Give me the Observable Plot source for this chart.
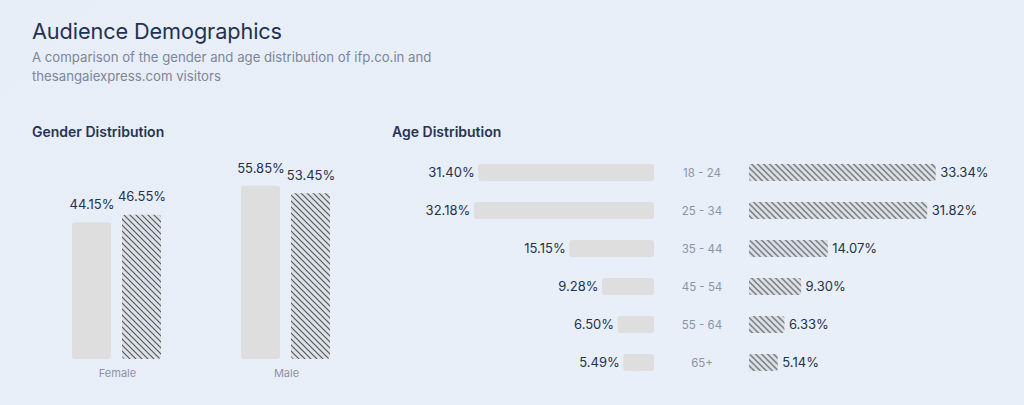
<!DOCTYPE html>
<html>
<head>
<meta charset="utf-8">
<script src="https://cdn.jsdelivr.net/npm/d3@7"></script>
<script src="https://cdn.jsdelivr.net/npm/@observablehq/plot@0.6"></script>
<style>
  html, body { margin: 0; padding: 0; }
  body { width: 1024px; height: 405px; overflow: hidden; background: linear-gradient(135deg, #e8eef8 0%, #e9eff9 100%); font-family: Inter, "Noto Sans", sans-serif; }
  #wrap { position: relative; width: 1024px; height: 405px; }
  .title { position: absolute; left: 32px; top: 18px; font-size: 21.7px; color: #1f3251; font-weight: 400; letter-spacing: -0.1px; }
  .subtitle { position: absolute; left: 32px; top: 48px; font-size: 13.2px; line-height: 19px; color: #7b8698; }
  .head { position: absolute; top: 123px; font-size: 14px; font-weight: 600; color: #243552; }
  #gender { position: absolute; left: 0; top: 140px; }
  #age { position: absolute; left: 380px; top: 140px; }
</style>
</head>
<body>
<svg width="0" height="0" style="position:absolute">
  <defs>
    <pattern id="hatch" patternUnits="userSpaceOnUse" width="6" height="6">
      <rect width="6" height="6" fill="#e1e1e1"></rect>
      <path d="M0,0 L6,6 M-1,5 L1,7 M5,-1 L7,1" stroke="#4b5a70" stroke-width="1.2"></path>
    </pattern>
  </defs>
</svg>
<div id="wrap">
  <div class="title">Audience Demographics</div>
  <div class="subtitle">A comparison of the gender and age distribution of ifp.co.in and<br>thesangaiexpress.com visitors</div>
  <div class="head" style="left:32px">Gender Distribution</div>
  <div class="head" style="left:392px">Age Distribution</div>
  <div id="gender"></div>
  <div id="age"></div>
</div>
<script>
const sites = ["ifp.co.in", "thesangaiexpress.com"];
const genders = ["Female", "Male"];
const genderIfp = [44.15, 55.85];
const genderSangai = [46.55, 53.45];
const ageGroups = ["18 - 24", "25 - 34", "35 - 44", "45 - 54", "55 - 64", "65+"];
const ageIfp = [31.40, 32.18, 15.15, 9.28, 6.50, 5.49];
const ageSangai = [33.34, 31.82, 14.07, 9.30, 6.33, 5.14];

const genderData = genders.flatMap((g, i) => [
  {gender: g, site: sites[0], value: genderIfp[i]},
  {gender: g, site: sites[1], value: genderSangai[i]}
]);
const ageData = ageGroups.map((a, i) => ({age: a, ifp: ageIfp[i], sangai: ageSangai[i]}));
const pct = v => v.toFixed(2) + "%";

const gender = Plot.plot({
  width: 380, height: 250,
  marginLeft: 71, marginRight: 48, marginTop: 33, marginBottom: 31,
  style: {background: "transparent", fontFamily: "Inter, sans-serif", fontSize: "11px", color: "#8a94a6"},
  fx: {domain: genders, paddingInner: 0.4647, paddingOuter: 0, label: null, axis: "bottom", tickSize: 0, tickPadding: 10},
  x: {domain: sites, paddingInner: 0.2157, paddingOuter: 0, axis: null},
  y: {domain: [0, 60], axis: null},
  marks: [
    Plot.barY(genderData.filter(d => d.site === sites[0]), {fx: "gender", x: "site", y: "value", fill: "#dedede", rx: 3}),
    Plot.barY(genderData.filter(d => d.site === sites[1]), {fx: "gender", x: "site", y: "value", fill: "url(#hatch)", rx: 3}),
    Plot.text(genderData, {fx: "gender", x: "site", y: "value", text: d => pct(d.value), dy: -18, fontSize: 13, fill: "#253247"})
  ]
});
document.getElementById("gender").append(gender);

const offset = 47.5;
const age = Plot.plot({
  width: 644, height: 260,
  marginLeft: 0, marginRight: 1, marginTop: 3, marginBottom: 8,
  style: {background: "transparent", fontFamily: "Inter, sans-serif"},
  x: {domain: [-57.41, 57.41], axis: null},
  y: {domain: ageGroups, padding: 0.55, axis: null},
  marks: [
    Plot.barX(ageData, {y: "age", x1: d => -d.ifp, x2: 0, dx: -offset, fill: "#dedede", rx: 3}),
    Plot.barX(ageData, {y: "age", x1: 0, x2: "sangai", dx: offset, fill: "url(#hatch)", rx: 2}),
    Plot.text(ageData, {y: "age", x: 0, text: "age", fontSize: 11.5, fill: "#8a94a6"}),
    Plot.text(ageData, {y: "age", x: d => -d.ifp, dx: -offset - 4, text: d => pct(d.ifp), textAnchor: "end", fontSize: 13, fill: "#253247"}),
    Plot.text(ageData, {y: "age", x: "sangai", dx: offset + 4, text: d => pct(d.sangai), textAnchor: "start", fontSize: 13, fill: "#253247"})
  ]
});
document.getElementById("age").append(age);
</script>
</body>
</html>
